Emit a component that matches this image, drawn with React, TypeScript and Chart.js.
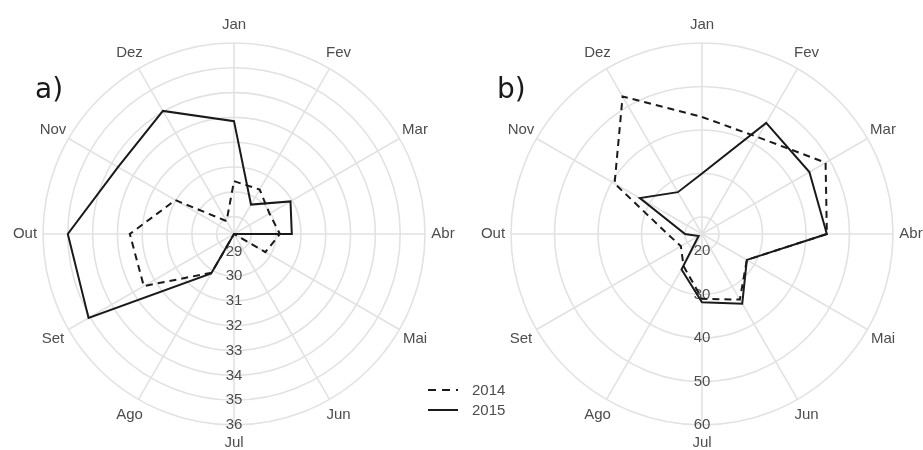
import React, { useEffect, useRef } from "react";
import { Chart, registerables } from "chart.js";

Chart.register(...registerables);

const months = ["Jan", "Fev", "Mar", "Abr", "Mai", "Jun", "Jul", "Ago", "Set", "Out", "Nov", "Dez"];
const seriesNames = ["2014", "2015"];

// panel a)
const a2014 = [30.43, 30.37, 29.95, 30.15, 29.76, 28.3, 28.3, 30.1, 32.5, 32.5, 31.03, 28.9];
const a2015 = [32.85, 29.67, 30.93, 30.63, 28.3, 28.3, 28.3, 30.14, 35.07, 35.0, 33.7, 34.03];
const aTicks = [29, 30, 31, 32, 33, 34, 35, 36];
const aMin = 28.3;
const aMax = 36;

// panel b)
const b2014 = [43.0, 41.8, 48.9, 44.8, 28.0, 33.5, 31.0, 24.6, 21.7, 24.0, 39.3, 52.6];
const b2015 = [30.0, 45.6, 44.6, 44.8, 28.0, 34.6, 31.8, 25.5, 17.0, 20.0, 32.6, 27.2];
const bTicks = [20, 30, 40, 50, 60];
const bMin = 16.1;
const bMax = 60;

const GRID = "#e2e2e2";
const TEXT = "#4d4d4d";
const LINE = "#1a1a1a";
const DASH = [7, 5];
const LABEL_FONT = '15px "Liberation Sans", Arial, sans-serif';

function makePlugin(panel: string, px: number, py: number, legend: null | { x: number; y: number }) {
  return {
    id: "polarText" + panel,
    beforeDatasetsDraw(chart: any) {
      const s = chart.scales.r;
      const ctx = chart.ctx;
      ctx.save();
      ctx.font = LABEL_FONT;
      ctx.fillStyle = TEXT;
      ctx.textAlign = "center";
      ctx.textBaseline = "middle";
      s.ticks.forEach((t: any, i: number) => {
        if (i === 0) return;
        const d = s.getDistanceFromCenterForValue(t.value);
        ctx.fillText(String(t.value), s.xCenter, s.yCenter + d);
      });
      ctx.restore();
    },
    afterDraw(chart: any) {
      const s = chart.scales.r;
      const ctx = chart.ctx;
      ctx.save();
      ctx.font = LABEL_FONT;
      ctx.fillStyle = TEXT;
      ctx.textAlign = "center";
      ctx.textBaseline = "middle";
      months.forEach((m, i) => {
        const p = s.getPointPosition(i, s.drawingArea + 18);
        ctx.fillText(m, p.x, p.y);
      });
      ctx.font = '28px "DejaVu Sans", sans-serif';
      ctx.fillStyle = "#1a1a1a";
      ctx.textAlign = "left";
      ctx.textBaseline = "alphabetic";
      ctx.fillText(panel, px, py);
      if (legend) {
        const { x, y } = legend;
        ctx.strokeStyle = LINE;
        ctx.lineWidth = 2;
        seriesNames.forEach((name, i) => {
          const yy = y + i * 20;
          ctx.setLineDash(i === 0 ? [8, 6] : []);
          ctx.beginPath();
          ctx.moveTo(x, yy);
          ctx.lineTo(x + 30, yy);
          ctx.stroke();
          ctx.setLineDash([]);
          ctx.font = LABEL_FONT;
          ctx.fillStyle = TEXT;
          ctx.textBaseline = "middle";
          ctx.fillText(name, x + 44, yy + 1);
        });
      }
      ctx.restore();
    },
  };
}

function makeConfig(
  d14: number[],
  d15: number[],
  ticks: number[],
  min: number,
  max: number,
  padding: { left: number; right: number; top: number; bottom: number },
  plugin: any
): any {
  return {
    type: "radar",
    data: {
      labels: months,
      datasets: [
        {
          label: seriesNames[0],
          data: d14,
          borderColor: LINE,
          borderWidth: 2,
          borderDash: DASH,
          fill: false,
          pointRadius: 0,
          pointHoverRadius: 0,
          tension: 0,
        },
        {
          label: seriesNames[1],
          data: d15,
          borderColor: LINE,
          borderWidth: 2,
          fill: false,
          pointRadius: 0,
          pointHoverRadius: 0,
          tension: 0,
        },
      ],
    },
    options: {
      animation: false,
      responsive: true,
      maintainAspectRatio: false,
      devicePixelRatio: 1,
      events: [],
      layout: { padding },
      plugins: { legend: { display: false }, tooltip: { enabled: false } },
      scales: {
        r: {
          min,
          max,
          startAngle: 0,
          afterBuildTicks: (scale: any) => {
            scale.ticks = [min, ...ticks].map((v) => ({ value: v }));
          },
          ticks: { display: false },
          pointLabels: { display: false },
          grid: { circular: true, color: GRID, lineWidth: 1.6 },
          angleLines: { color: GRID, lineWidth: 1.6 },
        },
      },
    },
    plugins: [plugin],
  };
}

function Panel(props: { left: number; width: number; config: any }) {
  const ref = useRef<HTMLCanvasElement>(null);
  useEffect(() => {
    if (!ref.current) return;
    const chart = new Chart(ref.current, props.config);
    return () => chart.destroy();
  }, []);
  return (
    <div style={{ position: "absolute", left: props.left, top: 0, width: props.width, height: 450 }}>
      <canvas ref={ref} />
    </div>
  );
}

export default function App() {
  const cfgA = makeConfig(
    a2014,
    a2015,
    aTicks,
    aMin,
    aMax,
    { left: 43, right: 44, top: 43, bottom: 25 },
    makePlugin("a)", 35, 98, null)
  );
  const cfgB = makeConfig(
    b2014,
    b2015,
    bTicks,
    bMin,
    bMax,
    { left: 111, right: 30, top: 43, bottom: 25 },
    makePlugin("b)", 97, 98, { x: 28, y: 390 })
  );
  return (
    <div
      style={{
        position: "fixed",
        left: 0,
        top: 0,
        width: 923,
        height: 450,
        overflow: "hidden",
        background: "#ffffff",
      }}
    >
      <Panel left={0} width={469} config={cfgA} />
      <Panel left={400} width={523} config={cfgB} />
    </div>
  );
}
